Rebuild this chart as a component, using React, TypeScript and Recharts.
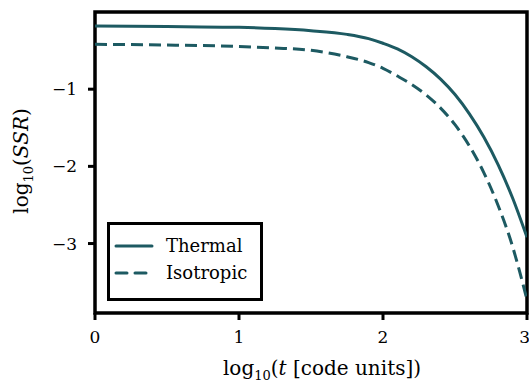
import React from 'react';
import { LineChart, Line, XAxis, YAxis, ReferenceArea } from 'recharts';

const thermalT = [0, 0.5, 1.0, 1.25, 1.5, 1.75, 1.9, 2.0, 2.1, 2.2, 2.3, 2.4, 2.5, 2.6, 2.7, 2.8, 2.9, 3.0];
const thermal = [-0.182, -0.188, -0.199, -0.215, -0.243, -0.29, -0.345, -0.405, -0.478, -0.58, -0.71, -0.87, -1.07, -1.32, -1.62, -1.98, -2.41, -2.92];
const isoT = [0, 0.5, 1.0, 1.25, 1.5, 1.75, 1.9, 2.0, 2.1, 2.2, 2.3, 2.4, 2.5, 2.6, 2.7, 2.8, 2.9, 2.95, 3.0];
const isotropic = [-0.419, -0.428, -0.447, -0.466, -0.497, -0.58, -0.655, -0.73, -0.83, -0.94, -1.075, -1.245, -1.46, -1.735, -2.08, -2.51, -3.04, -3.37, -3.73];
const xTicks = [0, 1, 2, 3];
const yTicks = [-3, -2, -1];

const COLOR = '#1d5a62';
const FONT = 'DejaVu Serif';

const thermalData = thermalT.map((x, i) => ({ x, y: thermal[i] }));
const isoData = isoT.map((x, i) => ({ x, y: isotropic[i] }));

const fmt = (v: number) => String(v).replace('-', '\u2212');

const YLabel = () => (
  <text x={28} y={161} transform="rotate(-90 28 161)" textAnchor="middle" fontFamily={FONT} fontSize={20} fill="#000">
    <tspan>log</tspan>
    <tspan fontSize={13} dy={5}>10</tspan>
    <tspan dy={-5}>(</tspan>
    <tspan fontStyle="italic">SSR</tspan>
    <tspan>)</tspan>
  </text>
);

const XLabel = () => (
  <text x={322} y={375} textAnchor="middle" fontFamily={FONT} fontSize={20} fill="#000">
    <tspan>log</tspan>
    <tspan fontSize={13} dy={5}>10</tspan>
    <tspan dy={-5}>(</tspan>
    <tspan fontStyle="italic">t</tspan>
    <tspan> [code units])</tspan>
  </text>
);

export default function App() {
  return (
    <div style={{ position: 'absolute', left: 0, top: 0, width: 529, height: 383 }}>
      <LineChart width={529} height={383} margin={{ top: 12, right: 2, left: 0, bottom: 0 }}>
        <XAxis
          type="number"
          dataKey="x"
          domain={[0, 3]}
          ticks={xTicks}
          allowDataOverflow
          height={70}
          axisLine={false}
          tickLine={{ stroke: '#000', strokeWidth: 3 }}
          tickSize={7}
          tickMargin={11}
          tick={{ fill: '#000', fontFamily: FONT, fontSize: 17 }}
          tickFormatter={fmt}
          label={<XLabel />}
        />
        <YAxis
          type="number"
          dataKey="y"
          domain={[-3.9, 0]}
          ticks={yTicks}
          allowDataOverflow
          width={95}
          axisLine={false}
          tickLine={{ stroke: '#000', strokeWidth: 3 }}
          tickSize={7}
          tickMargin={11}
          tick={{ fill: '#000', fontFamily: FONT, fontSize: 17 }}
          tickFormatter={fmt}
          label={<YLabel />}
        />
        <Line data={thermalData} dataKey="y" type="monotone" stroke={COLOR} strokeWidth={3} dot={false} isAnimationActive={false} />
        <Line data={isoData} dataKey="y" type="monotone" stroke={COLOR} strokeWidth={3} strokeDasharray="12 6" dot={false} isAnimationActive={false} />
        <ReferenceArea x1={0} x2={3} y1={-3.9} y2={0} fill="none" stroke="#000" strokeWidth={3.5} ifOverflow="visible" />
      </LineChart>
      <div
        style={{
          position: 'absolute',
          left: 107,
          top: 222,
          width: 150,
          height: 73,
          border: '3px solid #000',
          background: '#fff',
          fontFamily: FONT,
          fontSize: 18,
          color: '#000',
          boxSizing: 'content-box',
        }}
      >
        <div style={{ position: 'absolute', left: 4, top: 10, display: 'flex', alignItems: 'center' }}>
          <svg width={40} height={10}>
            <line x1={2} y1={5} x2={38} y2={5} stroke={COLOR} strokeWidth={3} strokeLinecap="round" />
          </svg>
          <span style={{ marginLeft: 12, lineHeight: '22px' }}>Thermal</span>
        </div>
        <div style={{ position: 'absolute', left: 4, top: 37, display: 'flex', alignItems: 'center' }}>
          <svg width={40} height={10}>
            <line x1={2} y1={5} x2={38} y2={5} stroke={COLOR} strokeWidth={3} strokeLinecap="round" strokeDasharray="11 8" />
          </svg>
          <span style={{ marginLeft: 12, lineHeight: '22px' }}>Isotropic</span>
        </div>
      </div>
    </div>
  );
}
